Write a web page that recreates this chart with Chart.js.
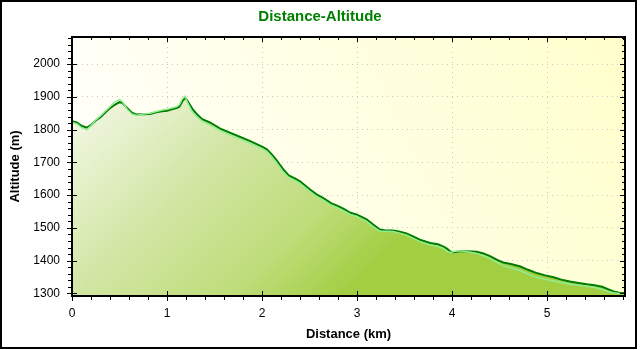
<!DOCTYPE html>
<html>
<head>
<meta charset="utf-8">
<title>Distance-Altitude</title>
<script src="https://cdn.jsdelivr.net/npm/chart.js@4.4.1/dist/chart.umd.min.js"></script>
<style>
  html, body { margin: 0; padding: 0; background: #fff; }
  #wrap { width: 640px; height: 350px; }
</style>
</head>
<body>
<div id="wrap"><canvas id="profileChart" width="640" height="350"></canvas></div>
<script>
// Track profile: distance along the track (km) and altitude (m)
const distKm = [
  0.00, 0.05, 0.10, 0.155, 0.20, 0.25, 0.30, 0.35, 0.40, 0.45,
  0.50, 0.53, 0.58, 0.63, 0.68, 0.75, 0.82, 0.90, 0.95, 1.00,
  1.05, 1.10, 1.13, 1.16, 1.19, 1.22, 1.27, 1.32, 1.37, 1.45,
  1.56, 1.70, 1.87, 2.00, 2.05, 2.10, 2.15, 2.22, 2.28, 2.34,
  2.40, 2.45, 2.505, 2.57, 2.645, 2.73, 2.79, 2.86, 2.93, 3.00,
  3.10, 3.17, 3.24, 3.30, 3.38, 3.45, 3.52, 3.59, 3.66, 3.77,
  3.85, 3.91, 3.95, 3.98, 4.02, 4.08, 4.15, 4.26, 4.33, 4.40,
  4.47, 4.54, 4.62, 4.72, 4.80, 4.89, 4.98, 5.07, 5.15, 5.24,
  5.33, 5.42, 5.50, 5.58, 5.64, 5.70, 5.76, 5.82
];
// altitude of the recorded track
const altTrack = [
  1826, 1822, 1812, 1806, 1814, 1828, 1838, 1852, 1866, 1876,
  1884, 1882, 1866, 1852, 1846, 1847, 1848, 1854, 1856, 1858,
  1862, 1866, 1870, 1886, 1898, 1886, 1862, 1846, 1832, 1822,
  1803, 1786, 1766, 1748, 1740, 1725, 1708, 1680, 1660, 1652,
  1642, 1630, 1617, 1603, 1591, 1575, 1568, 1558, 1546, 1540,
  1526, 1510, 1495, 1492, 1492, 1488, 1483, 1474, 1464, 1454,
  1450, 1443, 1436, 1428, 1426, 1429, 1429, 1427, 1422, 1414,
  1403, 1394, 1390, 1382, 1372, 1362, 1355, 1349, 1342, 1336,
  1332, 1328, 1325, 1320, 1313, 1306, 1302, 1300
];
// altitude from the terrain model
const altTerrain = [
  1822, 1818, 1806, 1800, 1812, 1830, 1842, 1856, 1870, 1884,
  1892, 1886, 1862, 1848, 1843, 1848, 1850, 1856, 1860, 1862,
  1866, 1870, 1876, 1894, 1902, 1880, 1852, 1838, 1826, 1815,
  1797, 1780, 1759, 1742, 1734, 1718, 1700, 1672, 1654, 1646,
  1636, 1624, 1611, 1597, 1585, 1569, 1562, 1552, 1541, 1535,
  1520, 1504, 1490, 1490, 1489, 1484, 1478, 1468, 1458, 1448,
  1444, 1437, 1428, 1425, 1428, 1430, 1428, 1422, 1415, 1406,
  1395, 1384, 1378, 1369, 1359, 1349, 1343, 1338, 1333, 1328,
  1325, 1322, 1318, 1312, 1306, 1302, 1300, 1298
];
const distTicks = [0, 1, 2, 3, 4, 5];
const altTicks = [1300, 1400, 1500, 1600, 1700, 1800, 1900, 2000];

const FONT = "'Liberation Sans', Arial, sans-serif";

function toPoints(ys) {
  return distKm.map((x, i) => ({ x: x, y: ys[i] }));
}

// green fill under the profile, light at the top-left, darker lower right
function profileFill(context) {
  const chart = context.chart;
  const a = chart.chartArea;
  if (!a) return 'rgba(0,0,0,0)';
  const g = chart.ctx.createLinearGradient(a.left, a.top, a.left + 260, a.bottom + 10);
  g.addColorStop(0, '#ffffff');
  g.addColorStop(0.5, '#d2e6a4');
  g.addColorStop(0.8, '#bedc78');
  g.addColorStop(1, '#a2ce42');
  return g;
}

// plot background, frame, tick marks on all four sides and outer border
const framePlugin = {
  id: 'frame',
  beforeDraw(chart) {
    const { ctx, chartArea: a } = chart;
    ctx.save();
    ctx.fillStyle = '#ffffff';
    ctx.fillRect(0, 0, chart.width, chart.height);
    const g = ctx.createLinearGradient(a.left, a.bottom, a.right, a.top);
    g.addColorStop(0, '#ffffff');
    g.addColorStop(1, '#ffffcc');
    ctx.fillStyle = g;
    ctx.fillRect(a.left, a.top, a.right - a.left, a.bottom - a.top);
    ctx.restore();
  },
  afterDatasetsDraw(chart) {
    const { ctx, chartArea: a } = chart;
    const xs = chart.scales.x;
    const ys = chart.scales.y;
    ctx.save();
    ctx.strokeStyle = '#000';
    ctx.lineWidth = 1;
    ctx.beginPath();
    const vLine = (px, y0, y1) => { const x = Math.round(px) + 0.5; ctx.moveTo(x, y0); ctx.lineTo(x, y1); };
    const hLine = (py, x0, x1) => { const y = Math.round(py) + 0.5; ctx.moveTo(x0, y); ctx.lineTo(x1, y); };

    // minor ticks every 0.2 km and 20 m
    for (let i = 0; i * 0.2 <= xs.max + 1e-9; i++) {
      const px = xs.getPixelForValue(i * 0.2);
      vLine(px, a.bottom, a.bottom + 4);
      vLine(px, a.top, a.top + 3);
    }
    for (let v = 1300; v <= ys.max; v += 20) {
      const py = ys.getPixelForValue(v);
      hLine(py, a.left - 4, a.left);
      hLine(py, a.right - 3, a.right);
    }
    // major ticks
    distTicks.forEach(v => {
      const px = xs.getPixelForValue(v);
      vLine(px, a.bottom - 5, a.bottom + 5);
      vLine(px, a.top, a.top + 5);
    });
    altTicks.forEach(v => {
      const py = ys.getPixelForValue(v);
      hLine(py, a.left - 5, a.left + 5);
      hLine(py, a.right - 5, a.right);
    });
    ctx.stroke();

    ctx.lineWidth = 2;
    ctx.strokeRect(a.left, a.top, a.right - a.left, a.bottom - a.top);
    ctx.strokeRect(1, 1, 635, 347);
    ctx.restore();
  }
};

const profileChart = new Chart(document.getElementById('profileChart').getContext('2d'), {
  type: 'line',
  data: {
    datasets: [
      {
        label: 'Terrain',
        data: toPoints(altTerrain),
        borderColor: '#90ee90',
        borderWidth: 1.5,
        pointRadius: 0,
        fill: false,
        tension: 0,
        order: 1
      },
      {
        label: 'Track',
        data: toPoints(altTrack),
        borderColor: '#007a00',
        borderWidth: 2,
        pointRadius: 0,
        backgroundColor: profileFill,
        fill: 'start',
        tension: 0,
        order: 2
      }
    ]
  },
  options: {
    responsive: false,
    animation: false,
    layout: { padding: 0 },
    plugins: {
      legend: { display: false },
      tooltip: { enabled: false },
      title: {
        display: true,
        text: 'Distance-Altitude',
        color: '#008000',
        font: { family: FONT, size: 15, weight: 'bold' },
        padding: { top: 8, bottom: 11 }
      }
    },
    scales: {
      x: {
        type: 'linear',
        min: 0,
        max: 5.82,
        afterBuildTicks: s => { s.ticks = distTicks.map(v => ({ value: v })); },
        afterFit: s => { s.height = 54; },
        grid: { color: '#c8c8c8', lineWidth: 1, drawTicks: false },
        border: { display: false, dash: [1, 4] },
        ticks: {
          padding: 10,
          color: '#000',
          maxRotation: 0,
          font: { family: FONT, size: 12 },
          callback: v => String(v)
        },
        title: {
          display: true,
          text: 'Distance (km)',
          color: '#000',
          font: { family: FONT, size: 13, weight: 'bold' },
          padding: { top: 0, bottom: 8 }
        }
      },
      y: {
        type: 'linear',
        min: 1292,
        max: 2083,
        afterBuildTicks: s => { s.ticks = altTicks.map(v => ({ value: v })); },
        afterFit: s => { s.width = 72; },
        grid: { color: '#c8c8c8', lineWidth: 1, drawTicks: false },
        border: { display: false, dash: [1, 4] },
        ticks: {
          padding: 12,
          color: '#000',
          font: { family: FONT, size: 12 },
          callback: v => String(v)
        },
        title: {
          display: true,
          text: 'Altitude (m)',
          color: '#000',
          font: { family: FONT, size: 13, weight: 'bold' },
          padding: { top: 8, bottom: 0 }
        }
      },
      // empty strip on the right so the title stays centred on the page
      yRight: {
        type: 'linear',
        position: 'right',
        afterFit: s => { s.width = 15; },
        ticks: { display: false },
        grid: { display: false, drawTicks: false },
        border: { display: false }
      }
    }
  },
  plugins: [framePlugin]
});
</script>
</body>
</html>
